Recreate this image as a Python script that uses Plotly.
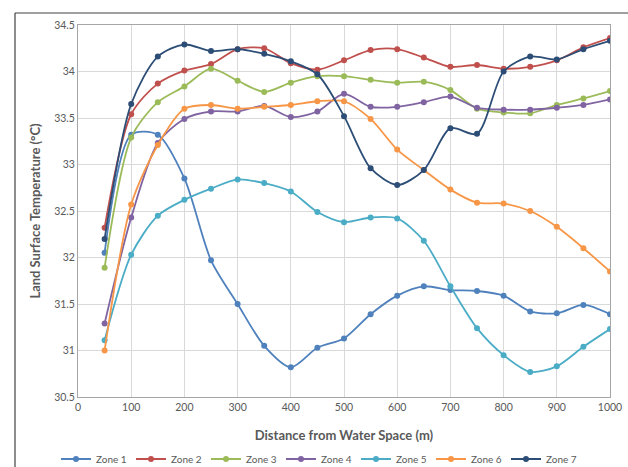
import plotly.graph_objects as go

distance = [50, 100, 150, 200, 250, 300, 350, 400, 450, 500,
            550, 600, 650, 700, 750, 800, 850, 900, 950, 1000]

zone1 = [32.05, 33.32, 33.32, 32.85, 31.97, 31.50, 31.05, 30.82, 31.03, 31.13,
         31.39, 31.59, 31.69, 31.65, 31.64, 31.59, 31.42, 31.40, 31.49, 31.39]
zone2 = [32.32, 33.54, 33.87, 34.01, 34.08, 34.24, 34.25, 34.09, 34.02, 34.12,
         34.23, 34.24, 34.15, 34.05, 34.07, 34.03, 34.05, 34.12, 34.26, 34.36]
zone3 = [31.89, 33.29, 33.67, 33.84, 34.03, 33.90, 33.78, 33.88, 33.95, 33.95,
         33.91, 33.88, 33.89, 33.80, 33.60, 33.56, 33.55, 33.64, 33.71, 33.79]
zone4 = [31.29, 32.43, 33.23, 33.49, 33.57, 33.57, 33.63, 33.51, 33.57, 33.76,
         33.62, 33.62, 33.67, 33.73, 33.61, 33.59, 33.59, 33.61, 33.64, 33.70]
zone5 = [31.11, 32.03, 32.45, 32.62, 32.74, 32.84, 32.80, 32.71, 32.49, 32.38,
         32.43, 32.42, 32.18, 31.69, 31.24, 30.95, 30.77, 30.83, 31.04, 31.23]
zone6 = [31.00, 32.57, 33.21, 33.60, 33.64, 33.60, 33.62, 33.64, 33.68, 33.68,
         33.49, 33.16, 32.94, 32.73, 32.59, 32.58, 32.50, 32.33, 32.10, 31.85]
zone7 = [32.20, 33.65, 34.16, 34.29, 34.22, 34.24, 34.19, 34.11, 33.97, 33.52,
         32.96, 32.78, 32.94, 33.39, 33.33, 34.00, 34.16, 34.13, 34.24, 34.33]

series_names = ["Zone 1", "Zone 2", "Zone 3", "Zone 4", "Zone 5", "Zone 6", "Zone 7"]
series_values = [zone1, zone2, zone3, zone4, zone5, zone6, zone7]
colors = ["#4F81BD", "#C0504D", "#9BBB59", "#8064A2", "#4BACC6", "#F79646", "#2C4D75"]

y_ticks = [30.5, 31, 31.5, 32, 32.5, 33, 33.5, 34, 34.5]
x_ticks = list(range(0, 1001, 100))

fig = go.Figure()
for name, vals, col in zip(series_names, series_values, colors):
    fig.add_trace(go.Scatter(
        x=distance, y=vals, name=name, mode="lines+markers",
        line=dict(color=col, width=1.8, shape="spline", smoothing=0.8),
        marker=dict(color=col, size=6),
    ))

# pixel helpers for the plot area (l=78, r=18, t=25, b=70)
pw, ph = 628 - 78 - 18, 467 - 25 - 70
def px2x(px):
    return (px - 78) / pw
def py2y(py):
    return (467 - 70 - py) / ph

font_family = "Lato, 'Open Sans', Arial, sans-serif"
fig.update_layout(
    width=628, height=467,
    margin=dict(l=78, r=18, t=25, b=70, autoexpand=False),
    paper_bgcolor="white", plot_bgcolor="white",
    font=dict(family=font_family, color="#595959", size=10.5),
    showlegend=True,
    legend=dict(orientation="h", xref="paper", yref="paper",
                x=px2x(56), xanchor="left", y=py2y(459), yanchor="middle",
                font=dict(size=10, color="#595959"), itemwidth=30,
                entrywidth=30, entrywidthmode="pixels",
                tracegroupgap=0, bgcolor="rgba(0,0,0,0)"),
    xaxis=dict(
        range=[0, 1000], tickvals=x_ticks, ticktext=[str(v) for v in x_ticks],
        showgrid=True, gridcolor="#D9D9D9", gridwidth=1,
        showline=True, linecolor="#A6A6A6", linewidth=1, mirror=True,
        ticks="", zeroline=False,
        title=dict(text="<b>Distance from Water Space (m)</b>",
                   font=dict(size=13, color="#595959"), standoff=19),
    ),
    yaxis=dict(
        range=[30.5, 34.5], tickvals=y_ticks, ticktext=[f"{v:g}" for v in y_ticks],
        showgrid=True, gridcolor="#D9D9D9", gridwidth=1,
        showline=True, linecolor="#A6A6A6", linewidth=1, mirror=True,
        ticks="", zeroline=False,
        title=dict(text="<b>Land Surface Temperature (°C)</b>",
                   font=dict(size=13, color="#595959"), standoff=10),
    ),
)

# outer chart frame (top and left edges visible)
fig.add_shape(type="line", xref="paper", yref="paper",
              x0=px2x(15), x1=px2x(640), y0=py2y(13), y1=py2y(13),
              line=dict(color="#404040", width=1.2))
fig.add_shape(type="line", xref="paper", yref="paper",
              x0=px2x(15), x1=px2x(15), y0=py2y(13), y1=py2y(480),
              line=dict(color="#404040", width=1.2))

fig.write_html("out.html", config={"displayModeBar": False},
               post_script="document.body.style.margin='0';document.body.style.overflow='hidden';")
